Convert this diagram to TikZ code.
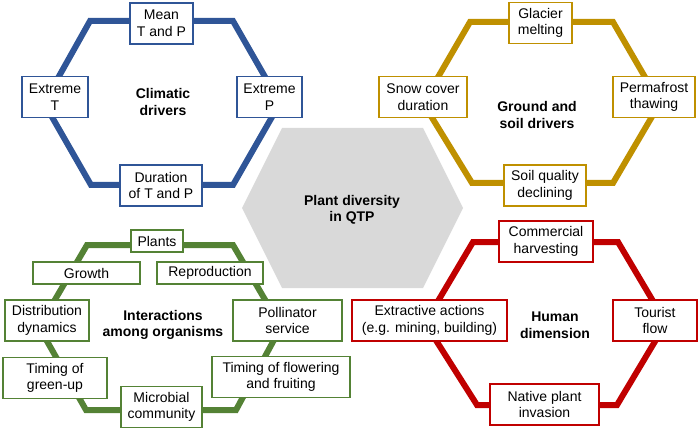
\documentclass[tikz,border=0pt]{standalone}
\usepackage{fontspec}
\setmainfont{Liberation Sans}
\usepackage{tikz}

\definecolor{climblue}{HTML}{2F5597}
\definecolor{soilgold}{HTML}{BF9000}
\definecolor{orggreen}{HTML}{548235}
\definecolor{humred}{HTML}{C00000}
\definecolor{coregray}{HTML}{D9D9D9}

\begin{document}
\begin{tikzpicture}[x=1pt, y=-1pt, line join=miter, font=\fontsize{14}{16.5}\selectfont,
	ring/.style={line width=6pt},
	tag/.style={draw, fill=white, line width=1.4pt, align=center, inner sep=1pt, minimum height=41pt},
	tagone/.style={tag, minimum height=22pt},
	title/.style={align=center, font=\fontsize{14}{16.5}\selectfont\bfseries}]
	\useasboundingbox (0,0) rectangle (700,430);

	% Lục giác trung tâm
	\fill[coregray] (282,128) -- (423,128) -- (463,208) -- (423,288) -- (282,288) -- (242,208) -- cycle;
	\node[title] (core) at (352,210) {Plant diversity\\in QTP};

	% Vòng khí hậu
	\draw[ring, climblue] (90,21) -- (233,21) -- (280,103) -- (233,185) -- (91,185) -- (44,103) -- cycle;
	\node[title] (clim) at (163,102) {Climatic\\drivers};
	\begin{scope}[every node/.style={tag, draw=climblue}]
		\node[minimum width=63pt] (meanTP) at (161.5,23.5) {Mean\\T and P};
		\node[minimum width=66pt] (extT) at (55,97) {Extreme\\T};
		\node[minimum width=65pt] (extP) at (269.5,97) {Extreme\\P};
		\node[minimum width=82pt] (durTP) at (161,185.5) {Duration\\of T and P};
	\end{scope}

	% Vòng đất và tuyết
	\draw[ring, soilgold] (470,22) -- (613,22) -- (660,103) -- (613,183) -- (472,183) -- (423,103) -- cycle;
	\node[title] (soil) at (537,115) {Ground and\\soil drivers};
	\begin{scope}[every node/.style={tag, draw=soilgold}]
		\node[minimum width=63pt] (glacier) at (540.5,23) {Glacier\\melting};
		\node[minimum width=88pt] (snow) at (423,97) {Snow cover\\duration};
		\node[minimum width=82pt] (perma) at (654,97) {Permafrost\\thawing};
		\node[minimum width=82pt] (soilq) at (545,185.5) {Soil quality\\declining};
	\end{scope}

	% Vòng sinh vật
	\draw[ring, orggreen] (87,245) -- (233,245) -- (281,327) -- (236,410) -- (86,410) -- (39,327) -- cycle;
	\node[title] (org) at (163,325) {Interactions\\among organisms};
	\begin{scope}[every node/.style={tag, draw=orggreen}]
		\node[tagone, minimum width=52pt] (plants) at (157,241) {Plants};
		\node[tagone, minimum width=107pt] (growth) at (86.5,273) {Growth};
		\node[tagone, minimum width=106pt] (repro) at (210,273) {Reproduction};
		\node[minimum width=84pt] (distdyn) at (47,320.5) {Distribution\\dynamics};
		\node[minimum width=109pt] (pollin) at (287.5,320.5) {Pollinator\\service};
		\node[minimum width=104pt] (greenup) at (55,378) {Timing of\\green-up};
		\node[minimum width=138pt] (flower) at (281,377) {Timing of flowering\\and fruiting};
		\node[minimum width=81pt] (microb) at (161.5,407) {Microbial\\community};
	\end{scope}

	% Vòng con người
	\draw[ring, humred] (473,242) -- (618,242) -- (666,323) -- (617,405) -- (477,405) -- (425,323) -- cycle;
	\node[title] (hum) at (555,325) {Human\\dimension};
	\begin{scope}[every node/.style={tag, draw=humred}]
		\node[minimum width=94pt] (harvest) at (546,241.5) {Commercial\\harvesting};
		\node[minimum width=155pt] (extract) at (429.5,320.5) {Extractive actions\\(e.g. mining, building)};
		\node[minimum width=84pt] (tourist) at (655,320.5) {Tourist\\flow};
		\node[minimum width=109pt] (invade) at (544.5,404.5) {Native plant\\invasion};
	\end{scope}
\end{tikzpicture}
\end{document}
